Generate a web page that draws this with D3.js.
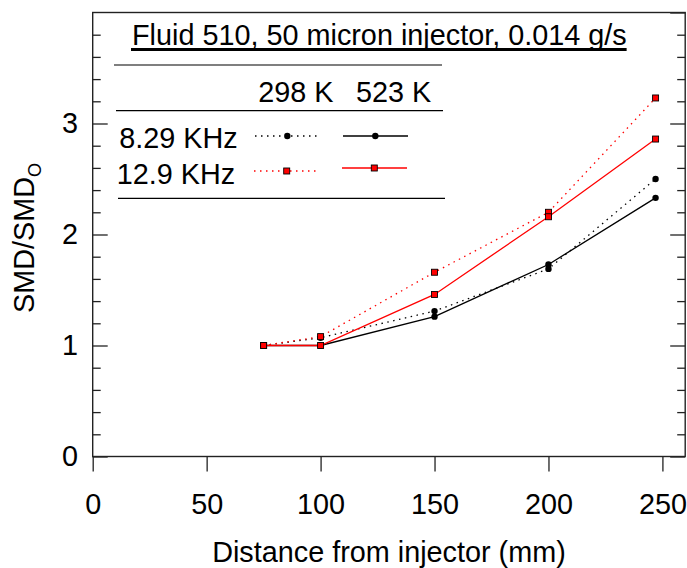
<!DOCTYPE html>
<html>
<head>
<meta charset="utf-8">
<script src="https://cdn.jsdelivr.net/npm/d3@7"></script>
<style>
  html, body { margin: 0; padding: 0; background: #fff; }
  svg { display: block; font-family: "Liberation Sans", Arial, sans-serif; }
</style>
</head>
<body>
<svg id="chart" width="687" height="568"></svg>
<script>
// ---- data ----
const distances = [75, 100, 150, 200, 247];
const smd298_829 = [1.00, 1.07, 1.31, 1.69, 2.50];   // 298 K, 8.29 KHz (dotted black)
const smd523_829 = [1.00, 1.00, 1.26, 1.73, 2.33];   // 523 K, 8.29 KHz (solid black)
const smd298_129 = [1.00, 1.08, 1.66, 2.20, 3.23];   // 298 K, 12.9 KHz (dotted red)
const smd523_129 = [1.00, 1.00, 1.46, 2.16, 2.86];   // 523 K, 12.9 KHz (solid red)
const xTicks = [0, 50, 100, 150, 200, 250];
const yTicks = [0, 1, 2, 3];
const yMinorTicks = [0.2,0.4,0.6,0.8,1.2,1.4,1.6,1.8,2.2,2.4,2.6,2.8,3.2,3.4,3.6,3.8];
const titleText = "Fluid 510, 50 micron injector, 0.014 g/s";
const xLabel = "Distance from injector (mm)";
const tempLabels = ["298 K", "523 K"];
const freqLabels = ["8.29 KHz", "12.9 KHz"];

const svg = d3.select("#chart");
const FS = 28.8;

const x = d3.scaleLinear().domain([0, 260]).range([92.7, 685.2]);
const y = d3.scaleLinear().domain([0, 4]).range([456.5, 12.5]);

const axisColor = "#222";

// frame
svg.append("rect")
  .attr("x", x(0)).attr("y", y(4))
  .attr("width", x(260) - x(0)).attr("height", y(0) - y(4))
  .attr("fill", "none").attr("stroke", axisColor).attr("stroke-width", 1.4);

function styleAxis(g) {
  g.select(".domain").remove();
  g.selectAll(".tick line").attr("stroke", axisColor).attr("stroke-width", 1.3);
  g.selectAll(".tick text").attr("font-size", FS).attr("fill", "#000")
    .attr("font-family", '"Liberation Sans", Arial, sans-serif');
}

// bottom axis
svg.append("g").attr("transform", `translate(0,${y(0)})`)
  .call(d3.axisBottom(x).tickValues(xTicks).tickSizeInner(15).tickSizeOuter(0).tickPadding(22).tickFormat(d3.format("d")))
  .call(styleAxis);

// left axis major
svg.append("g").attr("transform", `translate(${x(0)},0)`)
  .call(d3.axisLeft(y).tickValues(yTicks).tickSizeInner(-15).tickSizeOuter(0).tickPadding(14.7).tickFormat(d3.format("d")))
  .call(styleAxis);
// left minor
svg.append("g").attr("transform", `translate(${x(0)},0)`)
  .call(d3.axisLeft(y).tickValues(yMinorTicks).tickSizeInner(-8).tickSizeOuter(0).tickFormat(""))
  .call(styleAxis);
// right major
svg.append("g").attr("transform", `translate(${x(260)},0)`)
  .call(d3.axisRight(y).tickValues(yTicks.concat([4])).tickSizeInner(-15).tickSizeOuter(0).tickFormat(""))
  .call(styleAxis);
// right minor
svg.append("g").attr("transform", `translate(${x(260)},0)`)
  .call(d3.axisRight(y).tickValues(yMinorTicks).tickSizeInner(-8).tickSizeOuter(0).tickFormat(""))
  .call(styleAxis);

// axis titles
svg.append("text")
  .attr("x", (x(0) + x(260)) / 2).attr("y", 562)
  .attr("text-anchor", "middle").attr("font-size", FS)
  .text(xLabel);

const yl = svg.append("text")
  .attr("transform", "translate(33.5,313) rotate(-90)")
  .attr("font-size", FS);
yl.append("tspan").text("SMD/SMD");
yl.append("tspan").attr("font-size", 18).attr("dy", 7).text("O");

// title with underline
const title = svg.append("text")
  .attr("x", 132).attr("y", 45).attr("font-size", FS)
  .text(titleText);
const tw = title.node().getComputedTextLength();
svg.append("line")
  .attr("x1", 131).attr("x2", 132 + tw)
  .attr("y1", 49.5).attr("y2", 49.5)
  .attr("stroke", "#000").attr("stroke-width", 3);

// legend
const legLines = [[114, 442, 65], [116, 443, 110.7], [118, 445, 198.3]];
legLines.forEach(([a, b, yy]) => {
  svg.append("line").attr("x1", a).attr("x2", b).attr("y1", yy).attr("y2", yy)
    .attr("stroke", "#000").attr("stroke-width", 1.2);
});
svg.append("text").attr("x", 258.3).attr("y", 101.7).attr("font-size", FS).text(tempLabels[0]);
svg.append("text").attr("x", 356).attr("y", 101.7).attr("font-size", FS).text(tempLabels[1]);
svg.append("text").attr("x", 119.3).attr("y", 148.3).attr("font-size", FS).text(freqLabels[0]);
svg.append("text").attr("x", 116.7).attr("y", 184).attr("font-size", FS).text(freqLabels[1]);

const DOT = "1.5,4.5";
function legSample(x1, x2, yy, color, dashed, marker, mx) {
  const l = svg.append("line").attr("x1", x1).attr("x2", x2).attr("y1", yy).attr("y2", yy)
    .attr("stroke", color).attr("stroke-width", 1.3);
  if (dashed) l.attr("stroke-dasharray", DOT);
  if (marker === "circle") {
    svg.append("circle").attr("cx", mx).attr("cy", yy).attr("r", 3.2).attr("fill", "#000");
  } else {
    svg.append("rect").attr("x", mx - 3).attr("y", yy - 3).attr("width", 6).attr("height", 6)
      .attr("fill", "#ff0000").attr("stroke", "#000").attr("stroke-width", 0.9);
  }
}
legSample(255, 320, 136, "#000", true, "circle", 287.3);
legSample(343, 408, 136, "#000", false, "circle", 375.3);
legSample(254, 318, 171, "#ff0000", true, "square", 286.7);
legSample(342, 407, 168, "#ff0000", false, "square", 374.3);

// series
const series = [
  { vals: smd298_829, color: "#000", dashed: true, marker: "circle" },
  { vals: smd523_829, color: "#000", dashed: false, marker: "circle" },
  { vals: smd298_129, color: "#ff0000", dashed: true, marker: "square" },
  { vals: smd523_129, color: "#ff0000", dashed: false, marker: "square" }
];
const line = d3.line().x(d => x(d[0])).y(d => y(d[1]));
series.forEach(s => {
  const pts = distances.map((d, i) => [d, s.vals[i]]);
  const p = svg.append("path").datum(pts).attr("d", line)
    .attr("fill", "none").attr("stroke", s.color).attr("stroke-width", 1.3);
  if (s.dashed) p.attr("stroke-dasharray", DOT);
});
series.forEach(s => {
  const pts = distances.map((d, i) => [d, s.vals[i]]);
  if (s.marker === "circle") {
    svg.append("g").selectAll("circle").data(pts).join("circle")
      .attr("cx", d => x(d[0])).attr("cy", d => y(d[1])).attr("r", 3.2).attr("fill", "#000");
  } else {
    svg.append("g").selectAll("rect").data(pts).join("rect")
      .attr("x", d => x(d[0]) - 3).attr("y", d => y(d[1]) - 3)
      .attr("width", 6).attr("height", 6)
      .attr("fill", "#ff0000").attr("stroke", "#000").attr("stroke-width", 0.9);
  }
});
</script>
</body>
</html>
